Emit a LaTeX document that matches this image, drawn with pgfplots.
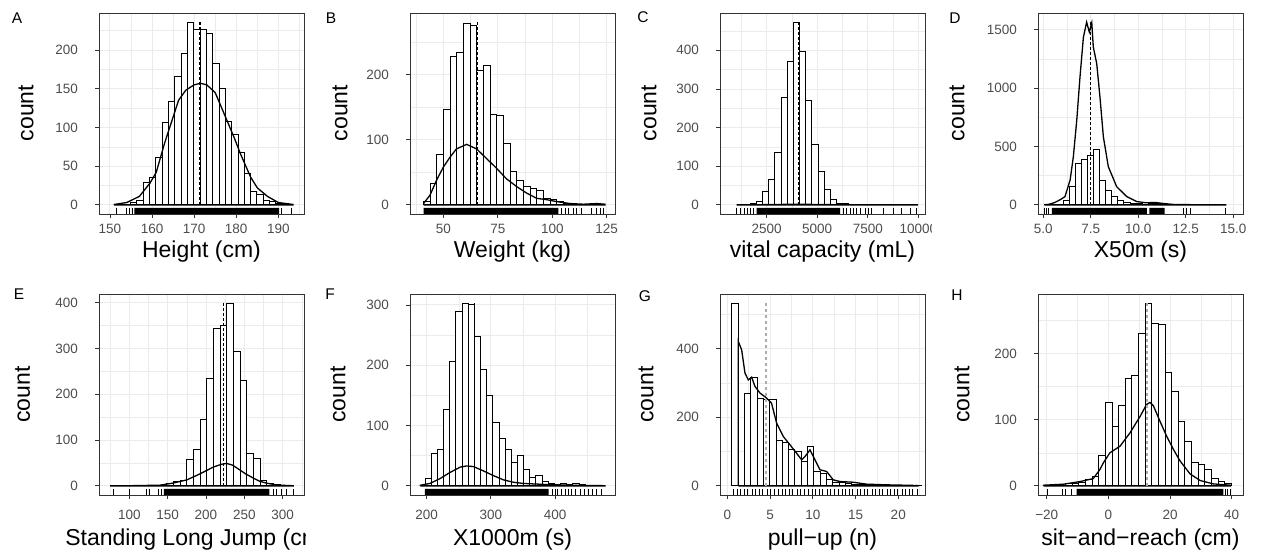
\documentclass[border=0pt]{standalone}
\usepackage{fontspec}
\setmainfont{Liberation Sans}
\usepackage{pgfplots}
\pgfplotsset{compat=1.18}
\definecolor{gray20}{HTML}{333333}
\definecolor{gray30}{HTML}{4D4D4D}
\definecolor{gray92}{HTML}{EBEBEB}
\pgfplotsset{
  panel/.style={
    scale only axis, width=205pt, height=201pt, anchor=south west,
    scaled ticks=false,
    axis line style={draw=gray20, line width=0.8pt},
    tick pos=left, tick align=outside, major tick length=4pt, minor tick length=0pt,
    tick style={draw=gray20, line width=0.8pt},
    grid=both,
    major grid style={draw=gray92, line width=0.9pt},
    minor grid style={draw=gray92, line width=0.45pt},
    xticklabel style={font=\fontsize{13.5}{13.5}\selectfont, text=gray30, anchor=center, inner sep=0pt},
    yticklabel style={font=\fontsize{13.5}{13.5}\selectfont, text=gray30, anchor=east, inner sep=0pt, xshift=-17pt},
  },
  rowone/.style={xticklabel style={yshift=-11pt}},
  rowtwo/.style={xticklabel style={yshift=-16pt}},
  hist/.style={ybar interval, fill=white, draw=black, line width=0.8pt},
  dens/.style={black, line width=1.3pt, mark=none},
  rug/.style={only marks, mark=|, mark size=3pt, mark options={line width=0.6pt, draw=black}},
  rugband/.style={fill=black, draw=none, mark=none},
  meanline/.style={black, line width=1.1pt, dash pattern=on 3pt off 2pt, mark=none},
  meangray/.style={gray!65, line width=2pt, dash pattern=on 3pt off 3pt, mark=none},
}
\newcommand{\tfont}{\fontsize{23}{23}\selectfont}
\newcommand{\lfont}{\fontsize{15.5}{15.5}\selectfont}
\begin{document}
\begin{tikzpicture}
\path[use as bounding box] (0,0) rectangle (1265pt,556pt);

% ---------------- A ----------------
\begin{axis}[panel, rowone, at={(99pt,342pt)},
  xmin=147.4, xmax=196.1, ymin=-11.8, ymax=247.8,
  xtick={150,160,170,180,190}, xticklabels={150,160,170,180,190},
  minor xtick={155,165,175,185,195},
  ytick={0,50,100,150,200}, yticklabels={0,50,100,150,200},
  minor ytick={25,75,125,175,225}]
\addplot[hist] coordinates {(151.9,1) (153.4,1) (154.9,3) (156.4,6) (157.9,29) (159.4,36) (160.9,61) (162.4,106) (163.9,134) (165.4,166) (166.9,196) (168.4,236) (169.9,226) (171.4,226) (172.9,222) (174.4,183) (175.9,151) (177.4,108) (178.9,91) (180.4,68) (181.9,41) (183.4,17) (184.9,13) (186.4,6) (187.9,4) (189.4,2) (190.9,1) (192.4,1)};
\addplot[dens] coordinates {(151,0) (151,0.5) (154,3) (157,11) (159.5,28) (161,42) (163,80) (164.5,105) (166.3,135) (168,148) (170,155) (171.5,157) (173,155) (175,145) (177.8,109) (179.5,87) (181,66) (183.4,36) (185,22) (187.4,11) (190,3) (193.5,0.5) (193.5,0) (151,0)};
\addplot[rugband] coordinates {(155.8,-11.8) (190.2,-11.8) (190.2,-4.05) (155.8,-4.05) (155.8,-11.8)};
\addplot[rug] coordinates {(151.5,-7.9) (153.8,-7.9) (154.6,-7.9) (155.2,-7.9) (190.8,-7.9) (193.0,-7.9)};
\addplot[meanline] coordinates {(171.4,0) (171.4,236)};
\end{axis}

% ---------------- B ----------------
\begin{axis}[panel, rowone, at={(410pt,342pt)},
  xmin=34.7, xmax=128.8, ymin=-14.05, ymax=295.05,
  xtick={50,75,100,125}, xticklabels={50,75,100,125},
  minor xtick={37.5,62.5,87.5,112.5},
  ytick={0,100,200}, yticklabels={0,100,200},
  minor ytick={50,150,250}]
\addplot[hist] coordinates {(40.8,5) (43.86,33) (46.92,78) (49.98,147) (53.04,228) (56.1,235) (59.16,279) (62.22,276) (65.28,206) (68.34,215) (71.4,139) (74.46,137) (77.52,95) (80.58,51) (83.64,38) (86.7,28) (89.76,25) (92.82,22) (95.88,10) (98.94,8) (102,5) (105.06,3) (108.12,2) (111.18,1) (114.24,1) (117.3,2) (120.36,1) (123.42,1)};
\addplot[dens] coordinates {(41,0) (41,2.5) (43.9,15) (46.9,38) (50,58) (53,73) (56,86) (60.7,93) (65.3,86) (69.9,71) (74.5,56) (79,40) (83.7,28) (88.3,18) (92.9,10) (97.4,8) (102,5) (108.2,2) (114.3,1) (120.4,2) (124.2,1) (124.2,0) (41,0)};
\addplot[rugband] coordinates {(41,-14.05) (102.8,-14.05) (102.8,-4.8) (41,-4.8) (41,-14.05)};
\addplot[rug] coordinates {(104.3,-9.43) (105.9,-9.43) (107.4,-9.43) (109.7,-9.43) (111.2,-9.43) (113.5,-9.43) (118.1,-9.43) (120.4,-9.43) (121.9,-9.43) (123.5,-9.43)};
\addplot[meanline] coordinates {(65.6,0) (65.6,281)};
\end{axis}

% ---------------- C ----------------
\begin{scope}
\clip (620pt,0pt) rectangle (931pt,556pt);
\begin{axis}[panel, rowone, at={(720pt,342pt)},
  xmin=190, xmax=10332, ymin=-23.65, ymax=496.65,
  xtick={2500,5000,7500,10000}, xticklabels={2500,5000,7500,10000},
  minor xtick={1250,3750,6250,8750},
  ytick={0,100,200,300,400}, yticklabels={0,100,200,300,400},
  minor ytick={50,150,250,350,450}]
\addplot[hist] coordinates {(1074,1) (1379,2) (1684,4) (1989,8) (2294,35) (2599,65) (2904,136) (3209,277) (3514,372) (3819,472) (4124,396) (4429,270) (4734,157) (5039,87) (5344,40) (5649,15) (5954,5) (6259,3) (6564,2) (6869,2) (7174,1) (7479,1) (7784,1)};
\addplot[dens] coordinates {(1016,0) (2000,0.3) (3000,1) (4000,1.6) (5000,1) (6000,0.3) (7000,0.1) (9990,0) (1016,0)};
\addplot[rugband] coordinates {(2005,-23.65) (6128,-23.65) (6128,-8.1) (2005,-8.1) (2005,-23.65)};
\addplot[rug] coordinates {(1016,-15.9) (1181,-15.9) (1379,-15.9) (1544,-15.9) (1709,-15.9) (1850,-15.9) (6293,-15.9) (6458,-15.9) (6622,-15.9) (6787,-15.9) (6952,-15.9) (7117,-15.9) (7364,-15.9) (7529,-15.9) (7694,-15.9) (8271,-15.9) (8766,-15.9) (9178,-15.9) (9590,-15.9) (9920,-15.9)};
\addplot[meanline] coordinates {(4060,0) (4060,473)};
\end{axis}
\end{scope}

% ---------------- D ----------------
\begin{axis}[panel, rowone, at={(1038pt,342pt)},
  xmin=4.72, xmax=15.51, ymin=-78.25, ymax=1643.25,
  xtick={5,7.5,10,12.5,15}, xticklabels={5.0,7.5,10.0,12.5,15.0},
  minor xtick={6.25,8.75,11.25,13.75},
  ytick={0,500,1000,1500}, yticklabels={0,500,1000,1500},
  minor ytick={250,750,1250}]
\addplot[hist] coordinates {(5.08,2) (5.4,3) (5.72,8) (6.04,40) (6.36,156) (6.68,359) (7.0,393) (7.32,427) (7.64,476) (7.96,213) (8.28,128) (8.6,71) (8.92,37) (9.24,20) (9.56,15) (9.88,10) (10.2,8) (10.52,12) (10.84,10) (11.16,4) (11.48,1) (11.8,1)};
\addplot[dens] coordinates {(5.05,0) (5.3,5) (5.6,20) (5.9,45) (6.14,71) (6.41,213) (6.58,412) (6.76,726) (6.93,1096) (7.11,1437) (7.28,1565) (7.42,1480) (7.55,1560) (7.63,1352) (7.81,1210) (7.98,925) (8.16,583) (8.42,327) (8.86,156) (9.39,71) (9.92,28) (10.4,18) (10.9,20) (11.3,12) (11.8,4) (12.5,2) (13.5,1) (14.6,0.5) (14.6,0) (5.05,0)};
\addplot[rugband] coordinates {(5.45,-78.25) (10.45,-78.25) (10.45,-26.85) (5.45,-26.85) (5.45,-78.25)};
\addplot[rugband] coordinates {(10.58,-78.25) (11.38,-78.25) (11.38,-26.85) (10.58,-26.85) (10.58,-78.25)};
\addplot[rug] coordinates {(5.05,-52.55) (5.15,-52.55) (5.25,-52.55) (12.37,-52.55) (12.54,-52.55) (12.75,-52.55) (14.6,-52.55)};
\addplot[meanline] coordinates {(7.5,0) (7.5,1565)};
\end{axis}

% ---------------- E ----------------
\begin{scope}
\clip (0pt,0pt) rectangle (305pt,556pt);
\begin{axis}[panel, rowtwo, at={(99pt,61pt)},
  xmin=60.5, xmax=327.9, ymin=-19.95, ymax=418.95,
  xtick={100,150,200,250,300}, xticklabels={100,150,200,250,300},
  minor xtick={75,125,175,225,275,325},
  ytick={0,100,200,300,400}, yticklabels={0,100,200,300,400},
  minor ytick={50,150,250,350}]
\addplot[hist] coordinates {(131.3,1) (140,2) (148.7,5) (157.4,9) (166.1,13) (174.8,57) (183.5,79) (192.2,146) (200.9,235) (209.6,344) (218.3,351) (227,399) (235.7,293) (244.4,231) (253.1,71) (261.8,60) (270.5,13) (279.2,6) (287.9,3) (296.6,1) (305.3,1)};
\addplot[dens] coordinates {(75,0) (100,0.3) (140,1.5) (157,6) (175,13) (192,26) (209.6,41) (220,47) (227,49) (235,45) (244,35) (252,26) (261.7,17) (270,10) (279,6) (290,2.5) (296.5,1.5) (314,0.3) (314,0) (75,0)};
\addplot[rugband] coordinates {(145,-19.95) (282.6,-19.95) (282.6,-6.85) (145,-6.85) (145,-19.95)};
\addplot[rug] coordinates {(79,-13.4) (100,-13.4) (122.6,-13.4) (125.7,-13.4) (138,-13.4) (142.2,-13.4) (287.8,-13.4) (292.2,-13.4) (298.7,-13.4) (305.2,-13.4) (313.9,-13.4)};
\addplot[meanline] coordinates {(222.6,0) (222.6,399)};
\end{axis}
\end{scope}

% ---------------- F ----------------
\begin{axis}[panel, rowtwo, at={(410pt,61pt)},
  xmin=174, xmax=493.5, ymin=-15.15, ymax=318.15,
  xtick={200,300,400}, xticklabels={200,300,400},
  minor xtick={250,350,450},
  ytick={0,100,200,300}, yticklabels={0,100,200,300},
  minor ytick={50,150,250}]
\addplot[hist] coordinates {(197.4,13) (207,54) (216.6,60) (226.2,127) (235.8,206) (245.4,289) (255,303) (264.6,301) (274.2,248) (283.8,193) (293.4,150) (303,105) (312.6,79) (322.2,60) (331.8,39) (341.4,50) (351,27) (360.6,14) (370.2,17) (379.8,7) (389.4,4) (399,3) (408.6,4) (418.2,3) (427.8,4) (437.4,2) (447,1) (456.6,1) (466.2,1)};
\addplot[dens] coordinates {(190,0) (190,1) (205,4) (220.8,12) (236,22) (252,31) (262,33) (272.7,32) (288,25) (304,17) (319.5,10) (335,6) (350.6,4) (371,3) (392,2) (423,1) (478,0.3) (478,0) (190,0)};
\addplot[rugband] coordinates {(197,-15.15) (390,-15.15) (390,-5.2) (197,-5.2) (197,-15.15)};
\addplot[rug] coordinates {(395,-10.17) (400,-10.17) (404,-10.17) (410,-10.17) (416,-10.17) (420,-10.17) (426,-10.17) (432,-10.17) (440,-10.17) (446,-10.17) (452,-10.17) (458,-10.17) (465,-10.17) (472,-10.17)};
\addplot[meanline] coordinates {(274.5,0) (274.5,303)};
\end{axis}

% ---------------- G ----------------
\begin{axis}[panel, rowtwo, at={(720pt,61pt)},
  xmin=-0.85, xmax=23.13, ymin=-26.65, ymax=559.65,
  xtick={0,5,10,15,20}, xticklabels={0,5,10,15,20},
  minor xtick={2.5,7.5,12.5,17.5,22.5},
  ytick={0,200,400}, yticklabels={0,200,400},
  minor ytick={100,300,500}]
\addplot[hist] coordinates {(0.51,531) (1.25,0) (1.99,271) (2.73,317) (3.47,256) (4.21,251) (4.95,251) (5.69,134) (6.43,127) (7.17,105) (7.91,100) (8.65,70) (9.39,115) (10.13,42) (10.87,37) (11.61,18) (12.35,11) (13.09,11) (13.83,8) (14.57,5) (15.31,4) (16.05,3) (16.79,3) (17.53,2) (18.27,3) (19.01,2) (19.75,1) (20.49,1) (21.23,1) (21.97,1) (22.71,1)};
\addplot[dens] coordinates {(1.29,0) (1.29,421) (1.68,397) (2.07,329) (2.46,309) (2.85,317) (3.24,290) (3.82,271) (4.6,256) (5.18,241) (5.77,183) (6.55,144) (7.33,120) (8.11,95) (8.7,76) (9.1,86) (9.68,105) (10.26,76) (10.84,47) (11.62,42) (12.4,17.5) (13.2,12.6) (14.7,10.7) (16.3,5) (18.6,3) (20.6,2) (22.3,1) (22.3,0) (1.29,0)};
\addplot[rug] coordinates {(0.65,-17.9) (1.15,-17.9) (1.52,-17.9) (2.02,-17.9) (2.40,-17.9) (2.90,-17.9) (3.28,-17.9) (3.78,-17.9) (4.15,-17.9) (4.65,-17.9) (5.03,-17.9) (5.53,-17.9) (5.91,-17.9) (6.41,-17.9) (6.79,-17.9) (7.29,-17.9) (7.66,-17.9) (8.16,-17.9) (8.54,-17.9) (9.04,-17.9) (9.42,-17.9) (9.92,-17.9) (10.29,-17.9) (10.79,-17.9) (11.17,-17.9) (11.67,-17.9) (12.05,-17.9) (12.55,-17.9) (12.93,-17.9) (13.43,-17.9) (13.80,-17.9) (14.30,-17.9) (14.68,-17.9) (15.18,-17.9) (15.56,-17.9) (16.06,-17.9) (16.43,-17.9) (16.93,-17.9) (17.31,-17.9) (17.81,-17.9) (18.19,-17.9) (18.69,-17.9) (19.07,-17.9) (19.57,-17.9) (19.94,-17.9) (20.44,-17.9) (20.82,-17.9) (21.32,-17.9) (21.70,-17.9) (22.20,-17.9)};
\addplot[meangray] coordinates {(4.49,0) (4.49,533)};
\end{axis}

% ---------------- H ----------------
\begin{axis}[panel, rowtwo, at={(1038pt,61pt)},
  xmin=-22.82, xmax=43.67, ymin=-13.8, ymax=289.8,
  xtick={-20,0,20,40}, xticklabels={−20,0,20,40},
  minor xtick={-10,10,30},
  ytick={0,100,200}, yticklabels={0,100,200},
  minor ytick={50,150,250}]
\addplot[hist] coordinates {(-20.35,1) (-18.2,1) (-16.05,1) (-13.9,3) (-11.75,4) (-9.6,5) (-7.45,10) (-5.3,14) (-3.15,46) (-1.0,126) (1.15,90) (3.3,121) (5.45,163) (7.6,167) (9.75,231) (11.9,275) (14.05,246) (16.2,244) (18.35,171) (20.5,143) (22.65,98) (24.8,67) (26.95,35) (29.1,33) (31.25,25) (33.4,11) (35.55,7) (37.7,3) (39.85,3)};
\addplot[dens] coordinates {(-21,0) (-21,1) (-14.6,2.5) (-9.2,6.5) (-4.9,11) (-2.7,25) (-1.6,35) (0.5,50) (3.8,60) (7,80) (10.3,105) (12.4,123) (13.5,126) (14.6,121) (16.7,98) (18.9,75) (21.1,55) (23.2,38) (26.5,18) (29.8,8) (34,3) (39.5,1) (39.5,0) (-21,0)};
\addplot[rugband] coordinates {(-10.3,-13.8) (37.3,-13.8) (37.3,-4.74) (-10.3,-4.74) (-10.3,-13.8)};
\addplot[rug] coordinates {(-19.8,-9.27) (-14.8,-9.27) (-14.0,-9.27) (-11.9,-9.27) (37.8,-9.27) (38.6,-9.27) (39.5,-9.27)};
\addplot[meangray] coordinates {(12.6,0) (12.6,276)};
\end{axis}

% ---------------- labels ----------------
\node[font=\lfont] at (17pt,538pt) {A};
\node[font=\lfont] at (331pt,538pt) {B};
\node[font=\lfont] at (643pt,539pt) {C};
\node[font=\lfont] at (955pt,538pt) {D};
\node[font=\lfont] at (19pt,262pt) {E};
\node[font=\lfont] at (330pt,262pt) {F};
\node[font=\lfont] at (645pt,260pt) {G};
\node[font=\lfont] at (957pt,261pt) {H};

\node[font=\tfont, rotate=90] at (26pt,443pt) {count};
\node[font=\tfont, rotate=90] at (340pt,443pt) {count};
\node[font=\tfont, rotate=90] at (649pt,443pt) {count};
\node[font=\tfont, rotate=90] at (957pt,443pt) {count};
\node[font=\tfont, rotate=90] at (22.5pt,161.5pt) {count};
\node[font=\tfont, rotate=90] at (338pt,161.5pt) {count};
\node[font=\tfont, rotate=90] at (646pt,161.5pt) {count};
\node[font=\tfont, rotate=90] at (962pt,161.5pt) {count};

\node[font=\tfont, anchor=base] at (201.5pt,298.5pt) {Height (cm)};
\node[font=\tfont, anchor=base] at (512.5pt,298.5pt) {Weight (kg)};
\node[font=\tfont, anchor=base] at (822.5pt,298.5pt) {vital capacity (mL)};
\node[font=\tfont, anchor=base] at (1140.5pt,298.5pt) {X50m (s)};
\begin{scope}
\clip (0pt,0pt) rectangle (305pt,556pt);
\node[font=\tfont, anchor=base] at (197pt,10pt) {Standing Long Jump (cm)};
\end{scope}
\node[font=\tfont, anchor=base] at (512.5pt,10pt) {X1000m (s)};
\node[font=\tfont, anchor=base] at (822.5pt,10pt) {pull−up (n)};
\node[font=\tfont, anchor=base] at (1140.5pt,10pt) {sit−and−reach (cm)};
\end{tikzpicture}
\end{document}
